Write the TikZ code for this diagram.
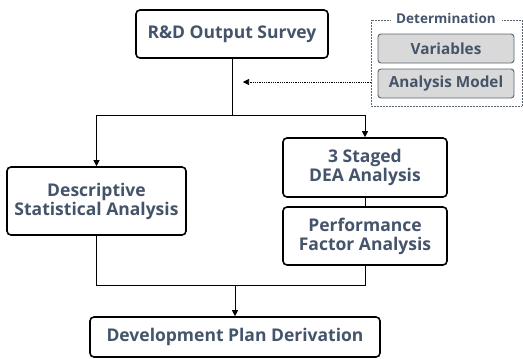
\documentclass[tikz,border=0pt]{standalone}
\usepackage{fontspec}
\setmainfont{Open Sans}
\usetikzlibrary{arrows.meta,calc}
\definecolor{txt}{HTML}{44546A}
\definecolor{subfill}{HTML}{D9D9D9}
\definecolor{subedge}{HTML}{5A6470}
\tikzset{
  x=1pt, y=-1pt,
  mainbox/.style={draw=black, line width=1.6pt, rounded corners=4pt, fill=white,
    text=txt, font=\bfseries\fontsize{17.5}{19}\selectfont, align=center, inner sep=0pt},
  subbox/.style={draw=subedge, line width=0.9pt, rounded corners=3pt, fill=subfill,
    text=txt, font=\bfseries\fontsize{15.3}{17}\selectfont, align=center, inner sep=0pt},
  link/.style={draw=black, line width=0.8pt},
  tip/.style={-{Triangle[length=6pt,width=6pt]}},
}
\begin{document}
\begin{tikzpicture}
\useasboundingbox (0,0) rectangle (523,359);
% main process boxes
\node[mainbox, minimum width=192pt, minimum height=48pt] (survey) at (232,34) {R\&D Output Survey};
\node[mainbox, minimum width=179pt, minimum height=68pt] (desc) at (96.5,201) {Descriptive\\Statistical Analysis};
\node[mainbox, minimum width=164pt, minimum height=59pt] (dea) at (365,167.5) {3 Staged\\DEA Analysis};
\node[mainbox, minimum width=164pt, minimum height=58pt] (perf) at (365,236) {Performance\\Factor Analysis};
\node[mainbox, minimum width=290pt, minimum height=40pt] (plan) at (235,337) {Development Plan Derivation};
% determination group
\node[text=txt, font=\bfseries\fontsize{13.5}{15}\selectfont, inner sep=0pt] (gtitle) at (446,18) {Determination};
\draw[subedge, line width=0.5pt, densely dotted] ($(gtitle.west)+(-6,2)$) -| (371,106) -| (522,20) -- ($(gtitle.east)+(6,2)$);
\node[subbox, minimum width=136pt, minimum height=29pt] (vars) at (446,48.5) {Variables};
\node[subbox, minimum width=136pt, minimum height=29pt] (model) at (446,83.5) {Analysis Model};
% connectors
\coordinate (split) at (survey.south |- 0,115);
\coordinate (join) at (235,285);
\draw[link] (survey.south) -- (split);
\draw[link, tip] (split) -| (desc.north);
\draw[link, tip] (split) -| (dea.north);
\draw[link] (dea.south) -- (perf.north);
\draw[link] (desc.south) |- (join);
\draw[link] (perf.south) |- (join);
\draw[link, tip] (join) -- (plan.north);
\coordinate (gate) at (371,82);
\coordinate (hint) at (243,82);
\draw[link, densely dotted, line width=0.6pt, -{Triangle[length=6pt,width=6pt]}] (gate) -- (hint);
\end{tikzpicture}
\end{document}
